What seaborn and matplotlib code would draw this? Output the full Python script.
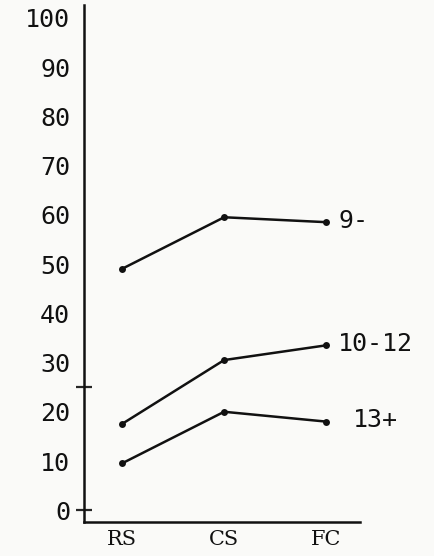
import matplotlib
matplotlib.use("Agg")
import matplotlib.pyplot as plt
import seaborn as sns
import pandas as pd

conditions = ["RS", "CS", "FC"]
groups = ["9-", "10-12", "13+"]
vals_9 = [49, 59.5, 58.5]
vals_10_12 = [17.5, 30.5, 33.5]
vals_13 = [9.5, 20, 18]
y_ticks = [0, 10, 20, 30, 40, 50, 60, 70, 80, 90, 100]

sns.set_style("ticks")
plt.rcParams["font.family"] = ["DejaVu Sans Mono", "DejaVu Sans"]

rows = []
for g, vals in zip(groups, [vals_9, vals_10_12, vals_13]):
    for i, (c, v) in enumerate(zip(conditions, vals)):
        rows.append({"group": g, "cond": c, "x": i, "value": v})
df = pd.DataFrame(rows)

fig = plt.figure(figsize=(4.35, 5.56), dpi=100, facecolor="#fafaf8")
ax = fig.add_axes([0.193, 0.061, 0.635, 0.930])
ax.set_facecolor("#fafaf8")

sns.lineplot(data=df, x="x", y="value", hue="group", palette=["#111111"] * 3,
             marker="o", markersize=5, markeredgewidth=0, linewidth=1.8,
             legend=False, ax=ax)

label_dx = {"9-": 9, "10-12": 8, "13+": 19}
for g in groups:
    last = df[(df.group == g) & (df.x == 2)].iloc[0]
    ax.annotate(g, xy=(last.x, last.value), xytext=(label_dx[g], 1),
                textcoords="offset points", va="center", ha="left",
                fontsize=18, color="#111111")

ax.set_xlim(-0.37, 2.33)
ax.set_ylim(-2.4, 102.6)
ax.set_xticks(range(len(conditions)))
ax.set_xticklabels(conditions, fontsize=15, family="DejaVu Serif")
ax.set_yticks(y_ticks)
ax.set_yticklabels([str(t) for t in y_ticks], fontsize=18)
ax.tick_params(axis="both", length=0, colors="#111111")
ax.tick_params(axis="y", pad=10)
ax.tick_params(axis="x", pad=6)
ax.yaxis.remove_overlapping_locs = False
ax.set_yticks([0, 25], minor=True)
ax.tick_params(axis="y", which="minor", length=11, width=1.6, direction="inout")
ax.set_xlabel("")
ax.set_ylabel("")
for s in ["top", "right"]:
    ax.spines[s].set_visible(False)
for s in ["left", "bottom"]:
    ax.spines[s].set_linewidth(1.8)
    ax.spines[s].set_color("#111111")

fig.savefig("out.png", dpi=100, facecolor=fig.get_facecolor())
